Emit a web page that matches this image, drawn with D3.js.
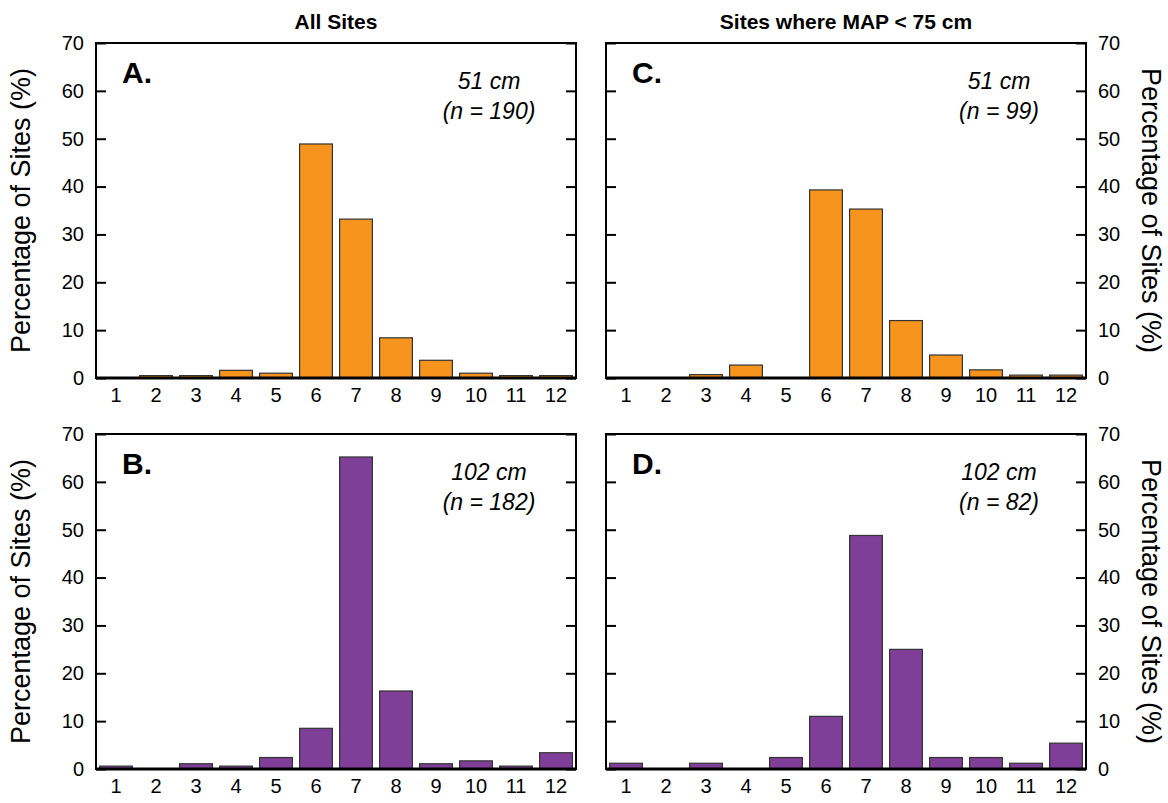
<!DOCTYPE html>
<html>
<head>
<meta charset="utf-8">
<script src="https://cdn.jsdelivr.net/npm/d3@7"></script>
<style>
  body { margin: 0; background: #fff; }
  text { font-family: "Liberation Sans", Arial, sans-serif; }
</style>
</head>
<body>
<div id="chart"></div>
<script>
// months 1..12
var months = [1,2,3,4,5,6,7,8,9,10,11,12];
var yTicks = [0,10,20,30,40,50,60,70];

// percentage of sites per month
var allSitesA = [0, 0.5, 0.5, 1.6, 1.0, 48.9, 33.2, 8.4, 3.7, 1.0, 0.5, 0.5];
var allSitesB = [0.6, 0, 1.1, 0.6, 2.4, 8.5, 65.2, 16.3, 1.1, 1.7, 0.6, 3.4];
var dryC = [0, 0, 0.7, 2.7, 0, 39.3, 35.3, 12.0, 4.8, 1.7, 0.6, 0.6];
var dryD = [1.2, 0, 1.2, 0, 2.4, 11.0, 48.8, 25.0, 2.4, 2.4, 1.2, 5.4];

var colTitles = ["All Sites", "Sites where MAP < 75 cm"];
var yTitle = "Percentage of Sites (%)";

var panels = [
  {id:"A.", vals:allSitesA, note1:"51 cm",  note2:"(n = 190)", color:"#F7941D", x0:96,  y0:43,  side:"left"},
  {id:"B.", vals:allSitesB, note1:"102 cm", note2:"(n = 182)", color:"#7F3F98", x0:96,  y0:434, side:"left"},
  {id:"C.", vals:dryC,      note1:"51 cm",  note2:"(n = 99)",  color:"#F7941D", x0:606, y0:43,  side:"right"},
  {id:"D.", vals:dryD,      note1:"102 cm", note2:"(n = 82)",  color:"#7F3F98", x0:606, y0:434, side:"right"}
];

var W = 480, H = 335;

var svg = d3.select("#chart").append("svg")
  .attr("width", 1168).attr("height", 803);

// column titles
svg.append("text").attr("x", 96 + W/2).attr("y", 29)
  .attr("text-anchor","middle").style("font-weight","bold").style("font-size","21px")
  .text(colTitles[0]);
svg.append("text").attr("x", 606 + W/2).attr("y", 29)
  .attr("text-anchor","middle").style("font-weight","bold").style("font-size","21px")
  .text(colTitles[1]);

panels.forEach(function(p){
  var g = svg.append("g").attr("transform","translate(" + p.x0 + "," + p.y0 + ")");

  var x = d3.scaleBand().domain(months).range([0, W]).paddingInner(0.18).paddingOuter(0.09);
  var y = d3.scaleLinear().domain([0, 70]).range([H, 0]);

  // bars
  g.selectAll("rect.bar").data(p.vals).enter().append("rect")
    .attr("class","bar")
    .attr("x", function(d,i){ return x(months[i]); })
    .attr("width", x.bandwidth())
    .attr("y", function(d){ return y(d); })
    .attr("height", function(d){ return H - y(d); })
    .attr("fill", p.color)
    .attr("stroke", "#333")
    .attr("stroke-width", d => d > 0 ? 1.2 : 0);

  // inward ticks on both sides
  var yL = d3.axisRight(y).tickValues(yTicks).tickSize(10).tickFormat("");
  var yR = d3.axisLeft(y).tickValues(yTicks).tickSize(10).tickFormat("");
  var gl = g.append("g").call(yL);
  gl.select(".domain").remove();
  gl.selectAll("line").attr("stroke","#000").attr("stroke-width",2);
  var gr = g.append("g").attr("transform","translate(" + W + ",0)").call(yR);
  gr.select(".domain").remove();
  gr.selectAll("line").attr("stroke","#000").attr("stroke-width",2);

  // box
  g.append("rect").attr("x",0).attr("y",0).attr("width",W).attr("height",H)
    .attr("fill","none").attr("stroke","#000").attr("stroke-width",2);
  g.append("line").attr("x1",0).attr("x2",W).attr("y1",H).attr("y2",H)
    .attr("stroke","#000").attr("stroke-width",3);

  // x tick labels
  var xa = d3.axisBottom(x).tickSize(0).tickPadding(10);
  var gx = g.append("g").attr("transform","translate(0," + H + ")").call(xa);
  gx.select(".domain").remove();
  gx.selectAll("text").style("font-size","20px").style("font-family","Liberation Sans, Arial, sans-serif")
    .attr("fill","#000").attr("dy","0.71em").attr("y", 10);

  // y tick labels
  var ya;
  if (p.side == "left") {
    ya = d3.axisLeft(y).tickValues(yTicks).tickSize(0).tickPadding(12);
  } else {
    ya = d3.axisRight(y).tickValues(yTicks).tickSize(0).tickPadding(12);
  }
  var gy = g.append("g").attr("transform", p.side == "left" ? "translate(0,0)" : "translate(" + W + ",0)").call(ya);
  gy.select(".domain").remove();
  gy.selectAll("text").style("font-size","20px").style("font-family","Liberation Sans, Arial, sans-serif").attr("fill","#000");

  // y title
  if (p.side == "left") {
    g.append("text").attr("transform","translate(-66," + H/2 + ") rotate(-90)")
      .attr("text-anchor","middle").style("font-size","27px").text(yTitle);
  } else {
    g.append("text").attr("transform","translate(" + (W + 56) + "," + H/2 + ") rotate(90)")
      .attr("text-anchor","middle").style("font-size","27px").text(yTitle);
  }

  // panel letter
  g.append("text").attr("x", 26).attr("y", 40)
    .style("font-weight","bold").style("font-size","30px").text(p.id);

  // annotation
  g.append("text").attr("x", 393).attr("y", 46).attr("text-anchor","middle")
    .style("font-style","italic").style("font-size","23px").text(p.note1);
  g.append("text").attr("x", 393).attr("y", 76).attr("text-anchor","middle")
    .style("font-style","italic").style("font-size","23px").text(p.note2);
});
</script>
</body>
</html>
